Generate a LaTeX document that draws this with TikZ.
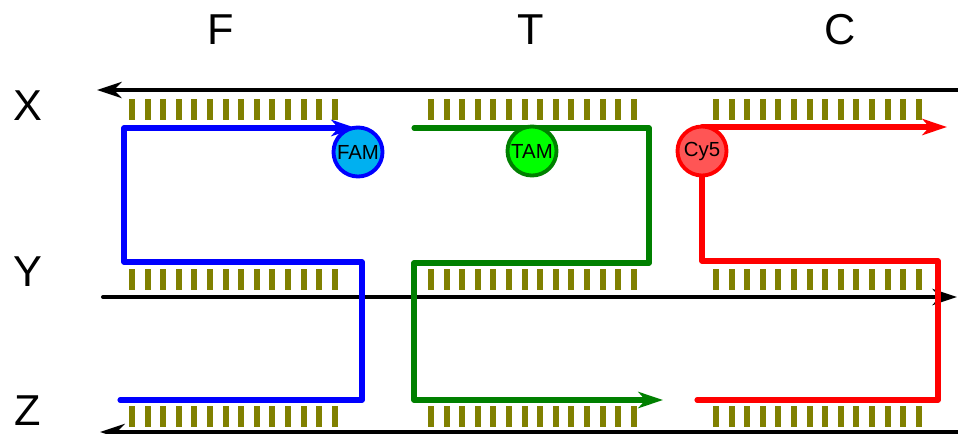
\documentclass[tikz,border=0pt]{standalone}
\usepackage{fontspec}
\setmainfont{Liberation Sans}
\usetikzlibrary{arrows.meta}
\definecolor{baseolive}{RGB}{128,128,0}
\definecolor{famblue}{RGB}{0,176,240}
\definecolor{tamgreen}{RGB}{0,255,0}
\definecolor{strandgreen}{RGB}{0,128,0}
\definecolor{cyred}{RGB}{255,85,85}
\begin{document}
\begin{tikzpicture}[
  x=0.01cm,y=-0.01cm,
  label/.style={inner sep=0pt,font=\fontsize{12.3}{14}\selectfont},
  template/.style={line width=1.15pt,draw=black,-{Stealth[length=7pt,width=4.6pt,inset=2.2pt]}},
  strand/.style={line width=1.45pt,line join=round,line cap=round},
  tip/.style={-{Stealth[length=7pt,width=4.6pt,inset=2pt]}},
  dye/.style={circle,line width=1.1pt,minimum size=0.49cm,inner sep=0pt,font=\fontsize{5.8}{6}\selectfont},
  basepair/.style={fill=baseolive}]
  \useasboundingbox (0,0) rectangle (958,433);
  % column and row labels
  \node[label] (colF) at (221,30) {F};
  \node[label] (colT) at (531,30) {T};
  \node[label] (colC) at (840,30) {C};
  \node[label] (rowX) at (28,106) {X};
  \node[label] (rowY) at (28,272) {Y};
  \node[label] (rowZ) at (28,411) {Z};
  % template strands
  \coordinate (xr) at (962,90);  \coordinate (xl) at (97,90);
  \coordinate (yl) at (103,297); \coordinate (yr) at (957,297);
  \coordinate (zr) at (962,432); \coordinate (zl) at (100,432);
  \draw[template] (xr)--(xl);
  \draw[template,line cap=round] (yl)--(yr);
  \draw[template] (zr)--(zl);
  % base pairs
  \foreach \bx in {129,428,713}
    \foreach \by in {99,269,406}
      \foreach \i in {0,...,13}
        \fill[basepair] (\bx+\i*15.6,\by) rectangle ++(6,21);
  % primer strands
  \coordinate (famc) at (358,152);
  \coordinate (tamc) at (532,151);
  \coordinate (cyc) at (702,151);
  \coordinate (fstart) at (120,400);
  \coordinate (tstart) at (414,128);
  \coordinate (tend) at (663,400);
  \coordinate (cstart) at (697,400);
  \coordinate (cend) at (947,127);
  \draw[strand,blue,tip] (fstart)--(362,400)--(362,262)--(124,262)--(124,128)--(356,128);
  \draw[strand,strandgreen,tip] (tstart)--(649,128)--(649,263)--(414,263)--(414,400)--(tend);
  \draw[strand,red] (cstart)--(938,400)--(938,261)--(702,261)--(cyc);
  \draw[strand,red,tip] (cyc |- 0,127)--(cend);
  % dyes
  \node[dye,draw=blue,fill=famblue] (fam) at (famc) {FAM};
  \node[dye,draw=strandgreen,fill=tamgreen] (tam) at (tamc) {TAM};
  \node[dye,draw=red,fill=cyred] (cy5) at (cyc) {Cy5};
\end{tikzpicture}
\end{document}
